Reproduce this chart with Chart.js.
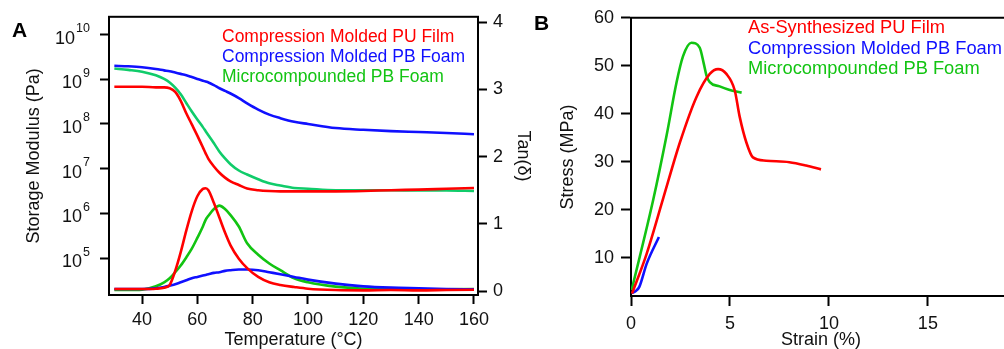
<!DOCTYPE html>
<html><head><meta charset="utf-8">
<script src="https://cdn.jsdelivr.net/npm/chart.js@4.4.0/dist/chart.umd.min.js"></script>
<style>
html,body{margin:0;padding:0;background:#fff;overflow:hidden;width:1004px;height:349px;}
#ca{position:absolute;left:0;top:0;}
#cb{position:absolute;left:525px;top:0;}
</style></head><body>
<canvas id="ca" width="540" height="349"></canvas>
<canvas id="cb" width="486" height="349"></canvas>
<script>
// ---------- Panel A : DMA ----------
const temperature = [30,35,40,45,48,50,52,54,56,58,60,62,63,64,66,68,70,72,75,78,82,86,90,95,100,110,120,130,140,150,160];
const modulusPUFilm = [6.8e8,6.8e8,6.8e8,6.6e8,6.6e8,6.3e8,5.2e8,3.3e8,1.74e8,9.8e7,5.5e7,3.0e7,2.2e7,1.66e7,1.12e7,8.1e6,6.3e6,5.2e6,4.3e6,3.6e6,3.3e6,3.16e6,3.1e6,3.1e6,3.1e6,3.1e6,3.16e6,3.3e6,3.4e6,3.55e6,3.7e6];
const modulusCMFoam = [2.0e9,1.95e9,1.86e9,1.7e9,1.58e9,1.51e9,1.41e9,1.32e9,1.23e9,1.12e9,1.02e9,9.3e8,8.9e8,8.5e8,7.4e8,6.3e8,5.5e8,4.8e8,3.8e8,2.9e8,2.1e8,1.62e8,1.35e8,1.12e8,1.0e8,8.1e7,7.4e7,6.9e7,6.6e7,6.3e7,5.9e7];
const modulusMCFoam = [1.74e9,1.62e9,1.48e9,1.23e9,1.02e9,8.5e8,6.5e8,4.6e8,2.95e8,1.9e8,1.26e8,8.5e7,6.9e7,5.6e7,3.7e7,2.4e7,1.7e7,1.26e7,9.1e6,7.4e6,5.8e6,4.7e6,4.2e6,3.7e6,3.55e6,3.3e6,3.3e6,3.3e6,3.24e6,3.24e6,3.16e6];
const tanPUFilm = [0.03,0.03,0.03,0.035,0.05,0.09,0.30,0.58,0.90,1.19,1.41,1.52,1.53,1.50,1.31,1.09,0.87,0.68,0.48,0.34,0.21,0.13,0.09,0.06,0.035,0.015,0.01,0.015,0.01,0.015,0.02];
const tanCMFoam = [0.03,0.03,0.03,0.04,0.06,0.08,0.10,0.13,0.16,0.19,0.21,0.23,0.24,0.25,0.27,0.28,0.30,0.31,0.32,0.32,0.31,0.28,0.25,0.21,0.17,0.11,0.07,0.05,0.04,0.03,0.025];
const tanMCFoam = [0.015,0.015,0.02,0.07,0.13,0.19,0.28,0.38,0.50,0.63,0.79,0.96,1.06,1.12,1.22,1.27,1.22,1.13,0.96,0.71,0.54,0.41,0.31,0.19,0.13,0.065,0.035,0.025,0.02,0.025,0.03];
const seriesNamesA = ['Compression Molded PU Film','Compression Molded PB Foam','Microcompounded PB Foam'];
const tempTicks = [40,60,80,100,120,140,160];
const modulusTicks = [1e5,1e6,1e7,1e8,1e9,1e10];
const tanTicks = [0,1,2,3,4];

// ---------- Panel B : tensile ----------
const strainPUFilm = [0.05,0.79,1.63,2.47,3.31,3.98,4.4,4.82,5.24,5.49,5.83,6.16,6.83,8.0,8.85,9.6];
const stressPUFilm = [2.5,10.8,22.4,34,43.5,48.3,49.3,48.3,44.9,39.4,34,30.9,30.2,29.9,29.2,28.4];
const strainCMFoam = [0.03,0.26,0.42,0.79,1.41];
const stressCMFoam = [2.6,3.1,3.9,8.7,14.3];
const strainMCFoam = [0.03,1.12,1.8,2.3,2.63,3.05,3.47,3.68,3.81,3.98,4.48,4.95,5.59];
const stressMCFoam = [3.2,22,35.5,46.5,52,54.8,53.8,50.4,48,46.6,45.7,45,44.4];
const seriesNamesB = ['As-Synthesized PU Film','Compression Molded PB Foam','Microcompounded PB Foam'];
const strainTicks = [0,5,10,15];
const stressTicks = [10,20,30,40,50,60];

const RED='#ff0000', BLUE='#1010ff', GREEN_MOD='#10cc6a', GREEN='#12c412';
const FONT="'Liberation Sans', Arial, sans-serif";
const INK='#111';

const pts = (xs, ys) => xs.map((x,i)=>({x, y: ys[i]}));
const line = (label, data, color, axis) => ({label, data, borderColor: color, backgroundColor: color,
  borderWidth: 2.6, pointRadius: 0, cubicInterpolationMode: 'monotone', yAxisID: axis || 'y'});

const axisGrid = (len) => ({drawOnChartArea:false, drawTicks:true, tickLength:len, tickWidth:2, tickColor:'#000'});
const axisBorder = {display:true, color:'#000', width:2};

const decor = {
  id:'decor',
  afterDraw(chart, args, o){
    const ctx = chart.ctx, a = chart.chartArea;
    ctx.save();
    ctx.strokeStyle='#000'; ctx.lineWidth=2;
    if (o.box) { ctx.strokeRect(a.left, a.top, a.right-a.left, a.bottom-a.top); }
    else { ctx.beginPath(); ctx.moveTo(a.left-1, a.top); ctx.lineTo(a.right, a.top); ctx.stroke(); }
    // panel letter
    ctx.fillStyle='#000'; ctx.font='bold 21px '+FONT; ctx.textBaseline='alphabetic'; ctx.textAlign='left';
    ctx.fillText(o.letter, o.letterX, o.letterY);
    // legend
    ctx.font=o.legendSize+'px '+FONT; ctx.textBaseline='middle';
    o.legend.forEach((e,i)=>{ ctx.fillStyle=e.color; ctx.fillText(e.text, o.legendX, o.legendY + i*o.legendGap); });
    // power-of-ten labels
    if (o.logAxis) {
      const s = chart.scales[o.logAxis];
      ctx.fillStyle=INK; ctx.textAlign='right';
      s.ticks.forEach(t=>{
        const y = s.getPixelForValue(t.value);
        const e = String(Math.round(Math.log10(t.value)));
        ctx.font='12.5px '+FONT; ctx.textBaseline='middle';
        const ew = ctx.measureText(e).width;
        ctx.fillText(e, o.logRight, y-6);
        ctx.font='18px '+FONT;
        ctx.fillText('10', o.logRight-ew-1, y+4);
      });
    }
    ctx.restore();
  }
};

new Chart(document.getElementById('ca'), {
  type:'line',
  data:{datasets:[
    line(seriesNamesA[0], pts(temperature, modulusPUFilm), RED, 'y'),
    line(seriesNamesA[1], pts(temperature, modulusCMFoam), BLUE, 'y'),
    line(seriesNamesA[2], pts(temperature, modulusMCFoam), GREEN_MOD, 'y'),
    line(seriesNamesA[0], pts(temperature, tanPUFilm), RED, 'y2'),
    line(seriesNamesA[1], pts(temperature, tanCMFoam), BLUE, 'y2'),
    line(seriesNamesA[2], pts(temperature, tanMCFoam), GREEN, 'y2'),
  ]},
  options:{
    responsive:false, animation:false, events:[],
    layout:{padding:{left:0,right:0,top:16,bottom:0}},
    plugins:{legend:{display:false}, tooltip:{enabled:false},
      decor:{box:true, letter:'A', letterX:12, letterY:37,
        legend: seriesNamesA.map((t,i)=>({text:t, color:[RED,BLUE,GREEN][i]})),
        legendSize:17.5, legendX:222, legendY:37, legendGap:20, logAxis:'y', logRight:90}},
    scales:{
      x:{type:'linear', min:28.07, max:161.45,
        afterBuildTicks:s=>{s.ticks = tempTicks.map(v=>({value:v}));},
        afterFit:s=>{s.height=54;},
        grid:axisGrid(9), border:axisBorder,
        ticks:{color:INK, font:{family:FONT,size:18}, padding:5, maxRotation:0},
        title:{display:true, text:'Temperature (°C)', color:INK, font:{family:FONT,size:18,lineHeight:1}, padding:{top:0,bottom:0}}},
      y:{type:'logarithmic', position:'left', min:1.49e4, max:2.5e10,
        afterBuildTicks:s=>{s.ticks = modulusTicks.map(v=>({value:v}));},
        afterFit:s=>{s.width=109;},
        grid:axisGrid(9), border:axisBorder,
        ticks:{display:false},
        title:{display:true, text:'Storage Modulus (Pa)', color:INK, font:{family:FONT,size:18,lineHeight:1}, padding:{top:25,bottom:0}}},
      y2:{type:'linear', position:'right', min:-0.059, max:4.08,
        afterBuildTicks:s=>{s.ticks = tanTicks.map(v=>({value:v}));},
        afterFit:s=>{s.width=62;},
        grid:axisGrid(9), border:axisBorder,
        ticks:{color:INK, font:{family:FONT,size:18}, padding:6},
        title:{display:true, text:'Tan(δ)', color:INK, font:{family:FONT,size:18,lineHeight:1}, padding:{top:8,bottom:0}}}
    }
  },
  plugins:[decor]
});

new Chart(document.getElementById('cb'), {
  type:'line',
  data:{datasets:[
    line(seriesNamesB[0], pts(strainPUFilm, stressPUFilm), RED),
    line(seriesNamesB[1], pts(strainCMFoam, stressCMFoam), BLUE),
    line(seriesNamesB[2], pts(strainMCFoam, stressMCFoam), GREEN),
  ]},
  options:{
    responsive:false, animation:false, events:[],
    layout:{padding:{left:0,right:0,top:13,bottom:0}},
    plugins:{legend:{display:false}, tooltip:{enabled:false},
      decor:{box:false, letter:'B', letterX:9, letterY:30,
        legend: seriesNamesB.map((t,i)=>({text:t, color:[RED,BLUE,GREEN][i]})),
        legendSize:18.3, legendX:223, legendY:28, legendGap:20.5}},
    scales:{
      x:{type:'linear', min:0, max:19.2,
        afterBuildTicks:s=>{s.ticks = strainTicks.map(v=>({value:v}));},
        afterFit:s=>{s.height=53;},
        grid:axisGrid(10), border:axisBorder,
        ticks:{color:INK, font:{family:FONT,size:18}, padding:7, maxRotation:0},
        title:{display:true, text:'Strain (%)', color:INK, font:{family:FONT,size:18,lineHeight:1}, padding:{top:0,bottom:0}}},
      y:{type:'linear', position:'left', min:2, max:60,
        afterBuildTicks:s=>{s.ticks = stressTicks.map(v=>({value:v}));},
        afterFit:s=>{s.width=106;},
        grid:axisGrid(10), border:axisBorder,
        ticks:{color:INK, font:{family:FONT,size:18}, padding:7},
        title:{display:true, text:'Stress (MPa)', color:INK, font:{family:FONT,size:18,lineHeight:1}, padding:{top:34,bottom:0}}}
    }
  },
  plugins:[decor]
});
</script>
</body></html>
